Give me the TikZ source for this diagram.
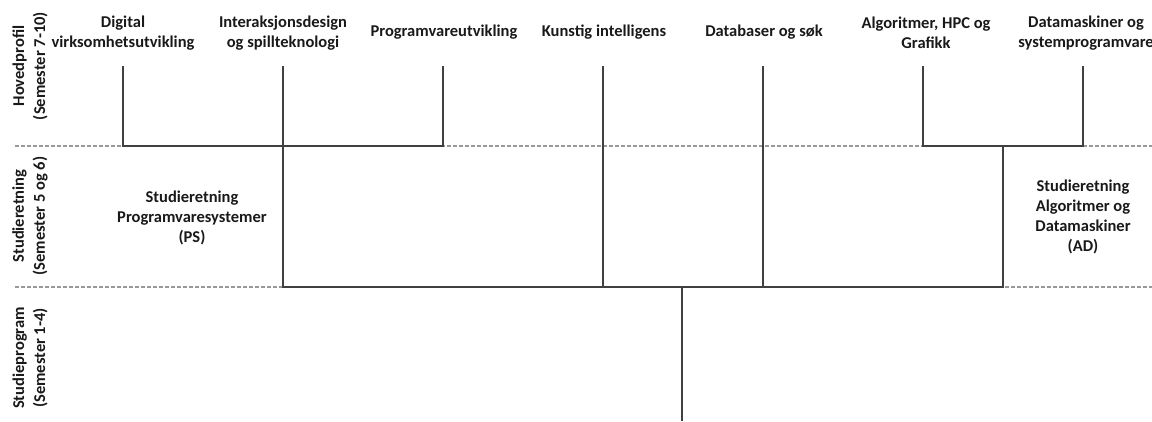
\documentclass[tikz,border=0pt]{standalone}
\usepackage{fontspec}
\setmainfont{Carlito}
\begin{document}
\begin{tikzpicture}[x=1pt,y=-1pt,
  lbl/.style={font=\fontsize{16.5}{20}\selectfont\bfseries, align=center, inner sep=0pt, text=black!90},
  band/.style={font=\fontsize{16.5}{21}\selectfont\bfseries, align=center, inner sep=0pt, rotate=90, text=black!90},
  tree/.style={draw=black!75, line width=1.8pt, line join=miter},
  sep/.style={draw=black!40, line width=1.4pt, dash pattern=on 3.5pt off 2.5pt}]
\useasboundingbox (0,0) rectangle (1152,421);
% band separators
\coordinate (s1a) at (15,146); \coordinate (s1b) at (1152,146);
\coordinate (s2a) at (15,287); \coordinate (s2b) at (1152,287);
\draw[sep] (s1a) -- (s1b);
\draw[sep] (s2a) -- (s2b);
% band labels
\node[band] (b1) at (30,66) {Hovedprofil\\(Semester 7-10)};
\node[band] (b2) at (30,216) {Studieretning\\(Semester 5 og 6)};
\node[band] (b3) at (30,358) {Studieprogram\\(Semester 1-4)};
% top labels
\node[lbl] (h1) at (123,33) {Digital\\virksomhetsutvikling};
\node[lbl] (h2) at (283,33) {Interaksjonsdesign\\og spillteknologi};
\node[lbl] (h3) at (444,32) {Programvareutvikling};
\node[lbl] (h4) at (604,32) {Kunstig intelligens};
\node[lbl] (h5) at (764,32) {Databaser og søk};
\node[lbl] (h6) at (926,33) {Algoritmer, HPC og\\Grafikk};
\node[lbl] (h7) at (1086,33) {Datamaskiner og\\systemprogramvare};
% middle labels
\node[lbl] (ps) at (192,218) {Studieretning\\Programvaresystemer\\(PS)};
\node[lbl] (ad) at (1083,217) {Studieretning\\Algoritmer og\\Datamaskiner\\(AD)};
% tree coordinates
\coordinate (t1) at (123,66); \coordinate (t2) at (283,66); \coordinate (t3) at (443,66);
\coordinate (t4) at (603,66); \coordinate (t5) at (763,66); \coordinate (t6) at (923,66);
\coordinate (t7) at (1083,66);
\coordinate (jps) at (283,146); \coordinate (jad) at (1003,146);
\coordinate (bl) at (283,287); \coordinate (br) at (1003,287);
\coordinate (r0) at (682,287); \coordinate (r1) at (682,421);
% tree
\draw[tree] (t1) |- (t3 |- jps) -- (t3);
\draw[tree] (t6) |- (t7 |- jad) -- (t7);
\draw[tree] (t2) -- (bl) -- (br) -- (jad);
\draw[tree] (t4) -- (t4 |- bl);
\draw[tree] (t5) -- (t5 |- bl);
\draw[tree] (r0) -- (r1);
\end{tikzpicture}
\end{document}
